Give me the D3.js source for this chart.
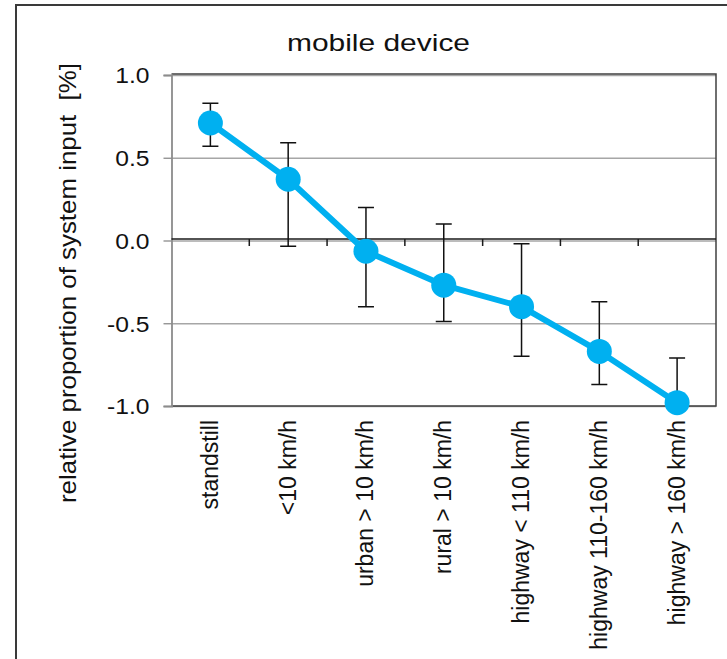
<!DOCTYPE html>
<html>
<head>
<meta charset="utf-8">
<script src="https://cdn.jsdelivr.net/npm/d3@7"></script>
<style>
  html, body { margin: 0; padding: 0; background: #fff; }
  svg { display: block; }
  text { font-family: "Liberation Sans", Arial, sans-serif; fill: #111; }
</style>
</head>
<body>
<svg id="chart" width="727" height="659"></svg>
<script>
// Driving situations
const categories = [
  "standstill",
  "<10 km/h",
  "urban > 10 km/h",
  "rural > 10 km/h",
  "highway < 110 km/h",
  "highway 110-160 km/h",
  "highway > 160 km/h"
];
// Mean relative proportion of system input [%] and error-bar limits
const meanValues = [0.71, 0.37, -0.065, -0.27, -0.40, -0.67, -0.98];
const upperValues = [0.83, 0.59, 0.20, 0.10, -0.02, -0.37, -0.71];
const lowerValues = [0.57, -0.035, -0.40, -0.49, -0.70, -0.87, -1.24];
const yTicks = [1.0, 0.5, 0.0, -0.5, -1.0];

const titleText = "mobile device";
const yLabelText = "relative proportion of system input  [%]";

const svg = d3.select("#chart");
const plot = { left: 171.5, right: 716, top: 75, bottom: 406 };

const x = d3.scaleBand().domain(categories).range([plot.left, plot.right]).padding(0);
const y = d3.scaleLinear().domain([-1, 1]).range([plot.bottom, plot.top]);

const blue = "#00b0f0";

// Outer frame (open at right and bottom edges of the canvas)
svg.append("rect")
  .attr("x", 16).attr("y", 5).attr("width", 900).attr("height", 900)
  .attr("fill", "none").attr("stroke", "#3a3a3a").attr("stroke-width", 2);

// Clip for the error bars
svg.append("defs").append("clipPath").attr("id", "plotClip")
  .append("rect")
  .attr("x", plot.left).attr("y", plot.top)
  .attr("width", plot.right - plot.left).attr("height", plot.bottom - plot.top);

// Horizontal gridlines
svg.append("g").selectAll("line").data(yTicks).join("line")
  .attr("x1", plot.left).attr("x2", plot.right)
  .attr("y1", d => y(d) + 0.5).attr("y2", d => y(d) + 0.5)
  .attr("stroke", "#a6a6a6").attr("stroke-width", 1.5);

// Plot border (top, right, bottom)
svg.append("path")
  .attr("d", `M${plot.left},${plot.top - 1}H${plot.right}V${plot.bottom}H${plot.left}`)
  .attr("fill", "none").attr("stroke", "#404040").attr("stroke-width", 1.5);

// Y axis (gray), ticks pointing left; plain hyphen for negatives
const fmt = d => d3.format(".1f")(d).replace("\u2212", "-");
const yAxis = svg.append("g")
  .attr("transform", `translate(${plot.left},0)`)
  .call(d3.axisLeft(y).tickValues(yTicks).tickSize(8).tickPadding(13).tickFormat(fmt));
yAxis.select(".domain").attr("stroke", "#8c8c8c").attr("stroke-width", 1.8);
yAxis.selectAll(".tick line").attr("stroke", "#8c8c8c").attr("stroke-width", 1.3);
yAxis.selectAll(".tick text")
  .attr("font-size", 22).attr("fill", "#111")
  .style("font-family", "'Liberation Sans', Arial, sans-serif")
  .attr("dy", "0.36em")
  .attr("x", -22)
  .each(function() {
    const w = this.getComputedTextLength();
    d3.select(this).attr("textLength", w * 1.12).attr("lengthAdjust", "spacingAndGlyphs");
  });

// Category axis along the zero line, ticks between categories
const zeroY = y(0) - 1.5;
svg.append("line")
  .attr("x1", plot.left).attr("x2", plot.right)
  .attr("y1", zeroY).attr("y2", zeroY)
  .attr("stroke", "#1a1a1a").attr("stroke-width", 1.5);
const boundaries = categories.slice(1).map(c => x(c));
svg.append("g").selectAll("line").data(boundaries).join("line")
  .attr("x1", d => d).attr("x2", d => d)
  .attr("y1", zeroY).attr("y2", zeroY + 7)
  .attr("stroke", "#1a1a1a").attr("stroke-width", 1.5);

// Category labels below the plot, rotated
svg.append("g").selectAll("text").data(categories).join("text")
  .attr("transform", d => `translate(${x(d) + x.bandwidth() / 2 + 7.5},${plot.bottom + 14}) rotate(-90)`)
  .attr("text-anchor", "end")
  .attr("font-size", 23)
  .text(d => d);

// Error bars
const cap = 8;
const eb = svg.append("g").attr("clip-path", "url(#plotClip)")
  .attr("stroke", "#111").attr("stroke-width", 1.5).attr("fill", "none");
categories.forEach((c, i) => {
  const cx = x(c) + x.bandwidth() / 2;
  const yt = y(upperValues[i]), yb = y(lowerValues[i]);
  eb.append("path")
    .attr("d", `M${cx},${yt}V${yb}M${cx - cap},${yt}H${cx + cap}M${cx - cap},${yb}H${cx + cap}`);
});

// Series line
const pts = categories.map((c, i) => [x(c) + x.bandwidth() / 2, y(meanValues[i])]);
svg.append("path")
  .attr("d", d3.line()(pts))
  .attr("fill", "none").attr("stroke", blue).attr("stroke-width", 6)
  .attr("stroke-linejoin", "round");

// Markers
svg.append("g").selectAll("circle").data(pts).join("circle")
  .attr("cx", d => d[0]).attr("cy", d => d[1]).attr("r", 12.5)
  .attr("fill", blue);

// Title
svg.append("text")
  .attr("x", 378.5).attr("y", 51)
  .attr("text-anchor", "middle")
  .attr("font-size", 24)
  .style("white-space", "pre")
  .attr("textLength", 183).attr("lengthAdjust", "spacingAndGlyphs")
  .text(titleText);

// Y axis title (double space before the unit kept)
svg.append("text")
  .attr("transform", `translate(76,283) rotate(-90)`)
  .attr("text-anchor", "middle")
  .attr("font-size", 24)
  .style("white-space", "pre")
  .attr("textLength", 440).attr("lengthAdjust", "spacingAndGlyphs")
  .text(yLabelText);
</script>
</body>
</html>
